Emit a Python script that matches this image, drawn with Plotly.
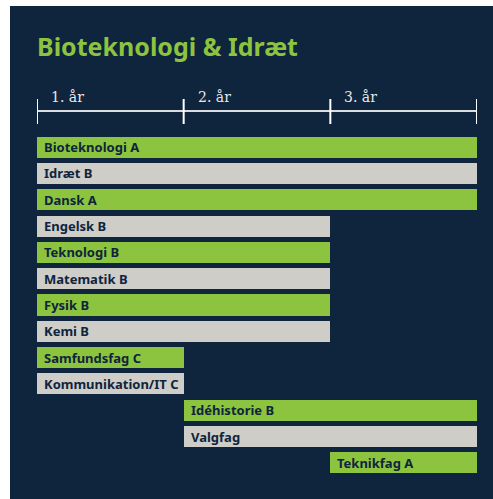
import plotly.graph_objects as go

subjects = ["Bioteknologi A", "Idræt B", "Dansk A", "Engelsk B", "Teknologi B",
            "Matematik B", "Fysik B", "Kemi B", "Samfundsfag C", "Kommunikation/IT C",
            "Idéhistorie B", "Valgfag", "Teknikfag A"]
start_year = [0, 0, 0, 0, 0, 0, 0, 0, 0, 0, 1, 1, 2]
end_year = [3, 3, 3, 2, 2, 2, 2, 2, 1, 1, 3, 3, 3]
kind = ["g", "w", "g", "w", "g", "w", "g", "w", "g", "w", "g", "w", "g"]
year_bounds = [0, 1, 2, 3]
year_labels = ["1. år", "2. år", "3. år"]
title = "Bioteknologi & Idræt"

GREEN = "#8cc43f"
GREY = "#cecdc7"
NAVY = "#0f243d"
W, H = 493, 499
L, R = 37, 477
T, B = 134, 476

def py(p):
    return (B - p) / (B - T)

def px(p):
    return (p - L) / (R - L)

idx = list(range(len(subjects)))
dur = [e - s for s, e in zip(start_year, end_year)]
colors = [GREEN if k == "g" else GREY for k in kind]

fig = go.Figure()
fig.add_trace(go.Bar(orientation="h", y=idx, x=dur, base=start_year,
                     marker=dict(color=colors, line=dict(width=0)), width=0.8,
                     hoverinfo="skip"))

shapes = [dict(type="rect", xref="paper", yref="paper", x0=px(10), x1=px(W + 5),
               y0=py(H + 5), y1=py(6), fillcolor=NAVY, line=dict(width=0), layer="below")]
shapes.append(dict(type="line", xref="x", yref="paper", x0=year_bounds[0], x1=year_bounds[-1],
                   y0=py(111), y1=py(111), line=dict(color="#d9dde2", width=2)))
for b in year_bounds:
    shapes.append(dict(type="line", xref="x", yref="paper", x0=b, x1=b,
                       y0=py(99), y1=py(124), line=dict(color="#ffffff", width=2)))

annotations = [dict(text="<b>" + title + "</b>", x=0, y=py(46), xref="paper", yref="paper",
                    xanchor="left", yanchor="middle", showarrow=False, xshift=-2,
                    font=dict(family="Noto Sans", size=25, color=GREEN))]
for i, lab in enumerate(year_labels):
    annotations.append(dict(text=lab, x=year_bounds[i], y=py(97), xref="x", yref="paper",
                            xanchor="left", yanchor="middle", xshift=12, showarrow=False,
                            font=dict(family="DejaVu Serif", size=14, color="#e6e8ea")))
for i, s in enumerate(subjects):
    annotations.append(dict(text="<b>" + s + "</b>", x=start_year[i], y=i, xref="x", yref="y",
                            xanchor="left", yanchor="middle", xshift=5, showarrow=False,
                            font=dict(family="Noto Sans", size=13, color=NAVY)))

fig.update_layout(width=W, height=H, margin=dict(l=L, r=W - R, t=T, b=H - B),
                  paper_bgcolor="white", plot_bgcolor="rgba(0,0,0,0)",
                  showlegend=False, shapes=shapes, annotations=annotations,
                  xaxis=dict(range=[0, 3], visible=False, fixedrange=True),
                  yaxis=dict(range=[12.5, -0.5], visible=False, fixedrange=True),
                  bargap=0)
fig.write_html("out.html", config={"displayModeBar": False},
               post_script="document.body.style.margin='0';document.body.style.overflow='hidden';")
